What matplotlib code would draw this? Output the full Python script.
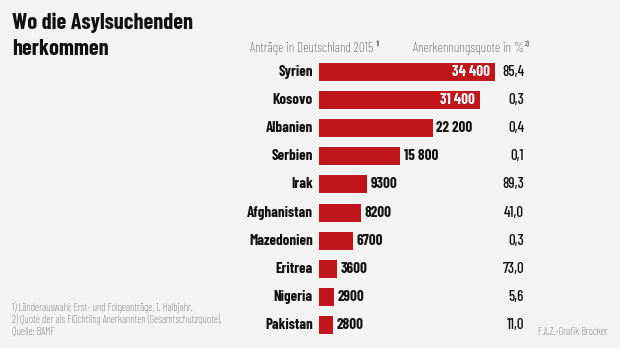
import matplotlib.pyplot as plt
from matplotlib.transforms import blended_transform_factory

plt.rcParams['font.family'] = ['Barlow Condensed', 'DejaVu Sans']

countries = ['Syrien', 'Kosovo', 'Albanien', 'Serbien', 'Irak', 'Afghanistan',
             'Mazedonien', 'Eritrea', 'Nigeria', 'Pakistan']
antraege = [34400, 31400, 22200, 15800, 9300, 8200, 6700, 3600, 2900, 2800]
antraege_labels = ['34 400', '31 400', '22 200', '15 800', '9300', '8200',
                   '6700', '3600', '2900', '2800']
quote = ['85,4', '0,3', '0,4', '0,1', '89,3', '41,0', '0,3', '73,0', '5,6', '11,0']

bg = '#f3f3f3'
red = '#c0151b'
W, H = 620, 348

fig = plt.figure(figsize=(6.2, 3.48), dpi=100, facecolor=bg)
# bars start at x=319px; rows fill y=58..339px
ax = fig.add_axes([319 / W, 9 / H, 301 / W, 281 / H])
ax.set_facecolor(bg)
ax.axis('off')
ypos = list(range(len(countries)))
ax.barh(ypos, antraege, height=0.64, color=red)
ax.set_xlim(0, 301 / 0.00513)
ax.set_ylim(len(countries) - 0.5, -0.5)

tr = blended_transform_factory(fig.transFigure, ax.transData)
for i, (c, v, lab, q) in enumerate(zip(countries, antraege, antraege_labels, quote)):
    ax.text(313 / W, i, c, transform=tr, ha='right', va='center',
            fontsize=10.8, fontweight='bold', color='#111111')
    if v > 30000:
        ax.text(v - 1100, i, lab, ha='right', va='center', fontsize=10.8,
                fontweight='bold', color='white')
    else:
        ax.text(v + 700, i, lab, ha='left', va='center', fontsize=10.8,
                fontweight='bold', color='#111111')
    ax.text(524 / W, i, q, transform=tr, ha='right', va='center',
            fontsize=10.8, fontweight='medium', color='#111111')

fig.text(12 / W, 1 - 29 / H, 'Wo die Asylsuchenden', ha='left', va='baseline',
         fontsize=16, fontweight='bold', color='#111111')
fig.text(12 / W, 1 - 55 / H, 'herkommen', ha='left', va='baseline',
         fontsize=16, fontweight='bold', color='#111111')

fig.text(250 / W, 1 - 52 / H, 'Anträge in Deutschland 2015', ha='left',
         va='baseline', fontsize=9.7, fontweight='light', color='#3c3c3c')
fig.text(375.5 / W, 1 - 46 / H, '1)', ha='left', va='baseline', fontsize=5.5,
         color='#3c3c3c')
fig.text(524 / W, 1 - 52 / H, 'Anerkennungsquote in %', ha='right',
         va='baseline', fontsize=9.7, fontweight='light', color='#3c3c3c')
fig.text(524.5 / W, 1 - 46 / H, '2)', ha='left', va='baseline', fontsize=5.5,
         color='#3c3c3c')

notes = ['1) Länderauswahl; Erst- und Folgeanträge, 1. Halbjahr.',
         '2) Quote der als Flüchtling Anerkannten (Gesamtschutzquote).',
         'Quelle: BAMF']
for k, n in enumerate(notes):
    fig.text(12 / W, 1 - (307 + 12 * k) / H, n, ha='left', va='center',
             fontsize=7.6, fontweight='light', color='#555555')
fig.text(538 / W, 1 - 332 / H, 'F.A.Z.-Grafik Brocker', ha='left', va='center',
         fontsize=7.6, fontweight='light', color='#555555')

fig.savefig('out.png', dpi=100, facecolor=bg)
